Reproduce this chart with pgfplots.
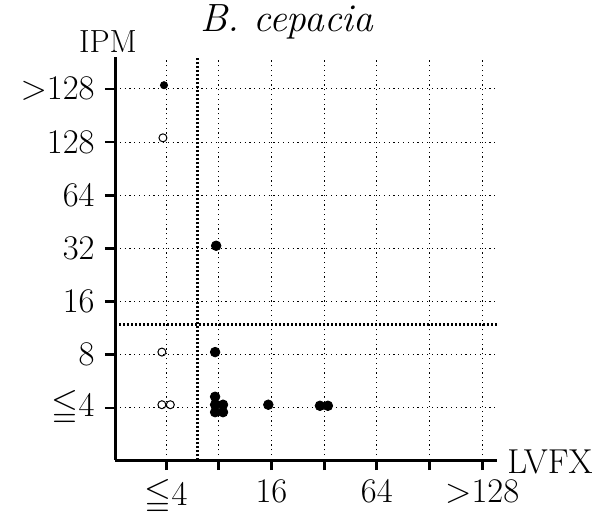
\documentclass[border=0pt]{standalone}
\usepackage{amssymb}
\usepackage{pgfplots}
\pgfplotsset{compat=1.18}

% MIC categories are plotted at 0..6: <=4, 8, 16, 32, 64, 128, >128
\pgfplotstableread{
x y
-0.04 6.07
}\filledsmall
\pgfplotstableread{
x y
0.95 3.05
0.93 1.05
0.93 0.21
0.93 0.06
1.08 0.06
0.93 -0.08
1.08 -0.08
1.94 0.06
2.92 0.04
3.07 0.04
}\filled
\pgfplotstableread{
x y
-0.06 5.08
-0.08 1.05
-0.08 0.06
0.08 0.06
}\open

\begin{document}
\begin{tikzpicture}
\useasboundingbox (-57.5pt,-25.5pt) rectangle (244.5pt,230pt);
\begin{axis}[
  at={(0,0)}, anchor=south west,
  scale only axis,
  width=191pt, height=201.5pt,
  xmin=-0.97, xmax=6.28,
  ymin=-0.98, ymax=6.6,
  axis lines*=left,
  axis line style={line width=1.5pt},
  every tick/.style={black, line width=1.4pt},
  tick align=outside,
  major tick length=5pt,
  xtick={0,1,2,3,4,5,6},
  xticklabels={$\leqq$4,,16,,64,,>128},
  ytick={0,1,2,3,4,5,6},
  yticklabels={$\leqq$4,8,16,32,64,128,>128},
  tick label style={font=\fontsize{17.3}{20}\selectfont},
  yticklabel style={inner sep=0pt, xshift=-5pt},
  xticklabel style={inner sep=0pt, yshift=-4.5pt},
  grid=major,
  major grid style={black, line width=0.45pt, dash pattern=on 0.6pt off 1.8pt},
  clip=false,
]
% cut-off lines
\addplot[black, line width=1.5pt, dash pattern=on 1pt off 1pt] coordinates {(0.59,-0.98) (0.59,6.6)};
\addplot[black, line width=1.5pt, dash pattern=on 1pt off 1pt] coordinates {(-0.97,1.56) (6.28,1.56)};
% isolates
\addplot[only marks, mark=*, mark size=1.8pt, black] table {\filledsmall};
\addplot[only marks, mark=*, mark size=2.4pt, black] table {\filled};
\addplot[only marks, mark=o, mark size=2pt, black, mark options={line width=0.5pt, fill=white}] table {\open};
\end{axis}
\node[anchor=base, font=\fontsize{19.7}{22}\selectfont\itshape] at (86pt,214.5pt) {B. cepacia};
\node[anchor=base, font=\fontsize{16}{18}\selectfont] at (-3.5pt,204pt) {IPM};
\node[anchor=base west, inner sep=0pt, font=\fontsize{17.3}{20}\selectfont] at (196pt,-6.5pt) {LVFX};
\end{tikzpicture}
\end{document}
